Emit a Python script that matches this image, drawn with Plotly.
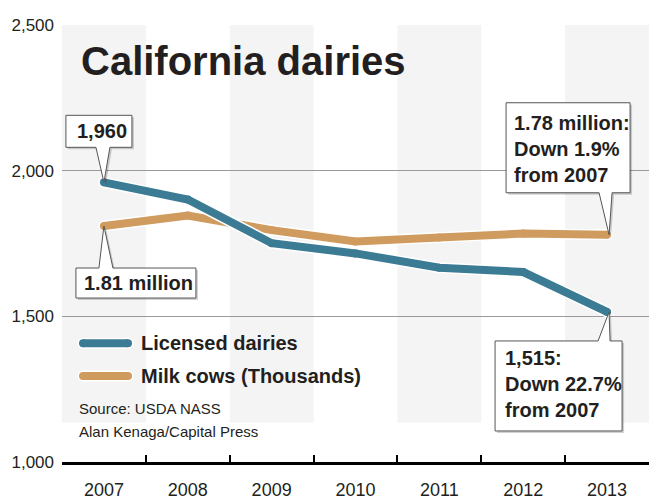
import plotly.graph_objects as go

# ---------------- data ----------------
years = ["2007", "2008", "2009", "2010", "2011", "2012", "2013"]
licensed_dairies = [1960, 1901, 1751, 1716, 1667, 1652, 1515]
milk_cows_thousands = [1810, 1846, 1796, 1757, 1771, 1784, 1780]
y_ticks = [1000, 1500, 2000, 2500]

title_text = "California dairies"
series_names = ["Licensed dairies", "Milk cows (Thousands)"]
source_lines = ["Source: USDA NASS", "Alan Kenaga/Capital Press"]
callout_texts = ["1,960", "1.81 million", "1.78 million:<br>Down 1.9%<br>from 2007",
                 "1,515:<br>Down 22.7%<br>from 2007"]

# ---------------- style ----------------
BLUE = "#3b7b93"
ORANGE = "#d09b5f"
INK = "#231f20"
FONT = "Liberation Sans, Arial, Helvetica, sans-serif"
W, H = 649, 500
L, R, T, B = 62, 0, 25, 33
PW, PH = W - L - R, H - T - B


def px(x):
    return (x - L) / PW


def py(y):
    return (H - B - y) / PH


fig = go.Figure()

# lines with white outline (orange first, blue on top)
for vals, col, name in [(milk_cows_thousands, ORANGE, series_names[1]),
                        (licensed_dairies, BLUE, series_names[0])]:
    fig.add_trace(go.Scatter(x=years, y=vals, mode="lines+markers",
                             line=dict(color="white", width=11),
                             marker=dict(color="white", size=11, line=dict(width=0)),
                             showlegend=False, hoverinfo="skip"))
    fig.add_trace(go.Scatter(x=years, y=vals, mode="lines+markers", name=name,
                             line=dict(color=col, width=8),
                             marker=dict(color=col, size=8, line=dict(width=0)),
                             showlegend=False))

shapes = []
# alternating bands
for i in range(0, len(years), 2):
    shapes.append(dict(type="rect", xref="x", yref="paper", x0=i - 0.5, x1=i + 0.5,
                       y0=0.09, y1=1, fillcolor="#f4f4f4", line=dict(width=0), layer="below"))


def callout_path(l, r, top, bot, p0, p1, tip, side, dx=0, dy=0):
    if side == "bottom":
        pts = [(l, top), (r, top), (r, bot), (p1, bot), tip, (p0, bot), (l, bot)]
    else:
        pts = [(l, top), (p0, top), tip, (p1, top), (r, top), (r, bot), (l, bot)]
    return "M " + " L ".join(f"{x + dx},{y + dy}" for x, y in pts) + " Z"


first, last = 0, len(years) - 1
# (x index, y value, box l, r, top, bottom, pointer p0, p1, tip, side, text xshift, yshift)
callouts = [
    (first, licensed_dairies[first], -38, 28, 67, 35, -8, 6, (0, 0), "bottom", -29, 51),
    (first, milk_cows_thousands[first], -28, 92, -42, -72, -5, 9, (0, 0), "top", -22, -57),
    (last, milk_cows_thousands[last], -101, 23, 132, 42, -8, 5, (2, 0), "bottom", -95, 86),
    (last, licensed_dairies[last], -112, 15, -29, -119, -9, 3, (2, 0), "top", -104, -72),
]

annotations = []
for k, (cx, cy, l, r, top, bot, p0, p1, tip, side, tx, ty) in enumerate(callouts):
    common = dict(type="path", xref="x", yref="y", xsizemode="pixel", ysizemode="pixel",
                  xanchor=cx, yanchor=cy, layer="above")
    shapes.append(dict(common, path=callout_path(l, r, top, bot, p0, p1, tip, side, 2, -2),
                       fillcolor="rgba(0,0,0,0.18)", line=dict(width=0)))
    shapes.append(dict(common, path=callout_path(l, r, top, bot, p0, p1, tip, side),
                       fillcolor="white", line=dict(color="#555555", width=1)))
    annotations.append(dict(x=cx, y=cy, xref="x", yref="y", text=callout_texts[k],
                            showarrow=False, xanchor="left", yanchor="middle", align="left",
                            xshift=tx, yshift=ty,
                            font=dict(family=FONT, size=20, color=INK, weight="bold")))

# manual legend
for (yy, col, name) in [(347, BLUE, series_names[0]), (380, ORANGE, series_names[1])]:
    for xe in (83, 128):
        shapes.append(dict(type="circle", xref="paper", yref="paper", xsizemode="pixel",
                           ysizemode="pixel", xanchor=px(xe), yanchor=py(yy),
                           x0=-5.5, x1=5.5, y0=-5.5, y1=5.5, fillcolor="white",
                           line=dict(width=0), layer="above"))
    shapes.append(dict(type="line", xref="paper", yref="paper", x0=px(83), x1=px(128),
                       y0=py(yy), y1=py(yy), line=dict(color="white", width=11), layer="above"))
    for xe in (83, 128):
        shapes.append(dict(type="circle", xref="paper", yref="paper", xsizemode="pixel",
                           ysizemode="pixel", xanchor=px(xe), yanchor=py(yy),
                           x0=-4, x1=4, y0=-4, y1=4, fillcolor=col,
                           line=dict(width=0), layer="above"))
    shapes.append(dict(type="line", xref="paper", yref="paper", x0=px(83), x1=px(128),
                       y0=py(yy), y1=py(yy), line=dict(color=col, width=8), layer="above"))
    annotations.append(dict(x=px(139), y=py(yy), xref="paper", yref="paper", text=name,
                            showarrow=False, xanchor="left", yanchor="middle",
                            font=dict(family=FONT, size=20, color=INK, weight="bold")))

# title
annotations.append(dict(x=px(79), y=py(61), xref="paper", yref="paper", text=title_text,
                        showarrow=False, xanchor="left", yanchor="middle",
                        font=dict(family=FONT, size=40, color=INK, weight="bold")))
# source
for s, yy in zip(source_lines, [412.5, 436.5]):
    annotations.append(dict(x=px(77), y=py(yy), xref="paper", yref="paper", text=s,
                            showarrow=False, xanchor="left", yanchor="middle",
                            font=dict(family=FONT, size=15, color=INK)))

fig.update_layout(
    width=W, height=H, margin=dict(l=L, r=R, t=T, b=B),
    paper_bgcolor="white", plot_bgcolor="white",
    shapes=shapes, annotations=annotations, showlegend=False,
    xaxis=dict(type="category", categoryorder="array", categoryarray=years,
               range=[-0.5, len(years) - 0.5], tickson="boundaries",
               ticks="inside", ticklen=7, tickwidth=1.5, tickcolor="black",
               showline=True, linecolor="black", linewidth=3, showgrid=False,
               tickfont=dict(family=FONT, size=18, color=INK), ticklabelstandoff=9),
    yaxis=dict(range=[y_ticks[0], y_ticks[-1]], tickvals=y_ticks, tickformat=",",
               showgrid=True, gridcolor="#9a9a9a", gridwidth=1, zeroline=False,
               showline=False, ticks="",
               tickfont=dict(family=FONT, size=17, color=INK), ticklabelstandoff=7),
)

fig.write_html("out.html")
